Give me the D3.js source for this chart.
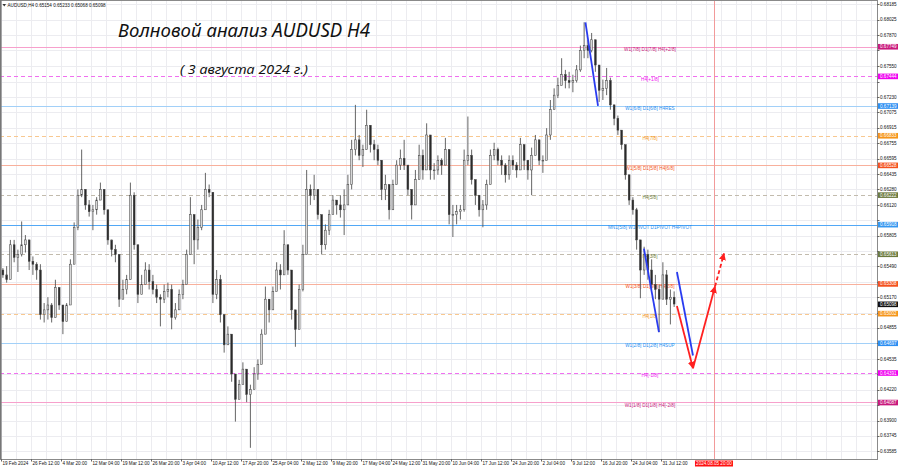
<!DOCTYPE html>
<html><head><meta charset="utf-8">
<script src="https://cdn.jsdelivr.net/npm/d3@7/dist/d3.min.js"></script>
<style>body{margin:0;background:#fff}svg{display:block}</style>
</head><body><svg id="c" width="900" height="468"></svg>
<script>
// ---------- DATA ----------
const symbolInfo = "AUDUSD,H4  0.65154 0.65233 0.65068 0.65098";
const titleMain = "Волновой анализ AUDUSD H4";
const titleDate = "( 3 августа 2024 г.)";
const barsPerCandle = 4;           // each drawn candle = 4 H4 bars (16h)
const firstOpen = 0.6545;
const highs = [
0.6547,0.6549,0.6576,0.6576,0.6566,0.6595,0.6581,0.6576,0.6559,0.6553,
0.6551,0.6511,0.6517,0.6511,0.6535,0.6525,0.6509,0.6511,0.6556,0.6594,
0.6628,0.6669,0.6628,0.6617,0.6612,0.6620,0.6635,0.6628,0.6607,0.6576,
0.6571,0.6561,0.6535,0.6540,0.6635,0.6625,0.6571,0.6540,0.6553,0.6551,
0.6540,0.6530,0.6520,0.6530,0.6532,0.6530,0.6511,0.6525,0.6535,0.6566,
0.6620,0.6602,0.6597,0.6612,0.6645,0.6633,0.6622,0.6545,0.6540,0.6499,
0.6487,0.6479,0.6438,0.6432,0.6450,0.6443,0.6427,0.6445,0.6453,0.6484,
0.6528,0.6515,0.6528,0.6553,0.6551,0.6586,0.6571,0.6545,0.6504,0.6530,
0.6571,0.6648,0.6633,0.6643,0.6628,0.6602,0.6592,0.6607,0.6622,0.6617,
0.6622,0.6628,0.6643,0.6679,0.6715,0.6684,0.6674,0.6710,0.6694,0.6679,
0.6674,0.6658,0.6643,0.6633,0.6638,0.6658,0.6669,0.6679,0.6653,0.6628,
0.6648,0.6674,0.6669,0.6696,0.6684,0.6655,0.6663,0.6660,0.6681,0.6669,
0.6612,0.6612,0.6612,0.6669,0.6703,0.6669,0.6638,0.6622,0.6617,0.6638,
0.6669,0.6676,0.6671,0.6663,0.6655,0.6663,0.6663,0.6656,0.6681,0.6674,
0.6658,0.6671,0.6684,0.6679,0.6663,0.6691,0.6720,0.6732,0.6743,0.6763,
0.6751,0.6749,0.6746,0.6756,0.6776,0.6800,0.6782,0.6789,0.6782,0.6756,
0.6741,0.6753,0.6743,0.6715,0.6704,0.6689,0.6674,0.6643,0.6620,0.6609,
0.6576,0.6569,0.6566,0.6556,0.6540,0.6530,0.6553,0.6545,0.6525,0.6523];
const lows = [
0.6537,0.6532,0.6535,0.6553,0.6543,0.6559,0.6563,0.6545,0.6540,0.6535,
0.6494,0.6491,0.6494,0.6491,0.6496,0.6504,0.6479,0.6492,0.6509,0.6551,
0.6586,0.6620,0.6607,0.6600,0.6586,0.6602,0.6617,0.6602,0.6571,0.6559,
0.6553,0.6507,0.6515,0.6520,0.6535,0.6566,0.6511,0.6520,0.6530,0.6525,
0.6520,0.6511,0.6487,0.6511,0.6517,0.6484,0.6494,0.6504,0.6515,0.6530,
0.6561,0.6551,0.6566,0.6586,0.6607,0.6620,0.6511,0.6515,0.6491,0.6460,
0.6468,0.6430,0.6389,0.6412,0.6427,0.6409,0.6362,0.6422,0.6432,0.6448,
0.6479,0.6491,0.6504,0.6523,0.6525,0.6540,0.6540,0.6494,0.6466,0.6484,
0.6523,0.6561,0.6612,0.6617,0.6597,0.6561,0.6566,0.6581,0.6602,0.6602,
0.6599,0.6581,0.6612,0.6628,0.6663,0.6658,0.6651,0.6669,0.6666,0.6658,
0.6653,0.6617,0.6617,0.6597,0.6607,0.6633,0.6648,0.6648,0.6622,0.6597,
0.6612,0.6638,0.6638,0.6648,0.6638,0.6638,0.6643,0.6643,0.6653,0.6592,
0.6579,0.6592,0.6597,0.6605,0.6653,0.6633,0.6612,0.6600,0.6589,0.6607,
0.6633,0.6658,0.6653,0.6643,0.6635,0.6638,0.6648,0.6640,0.6648,0.6648,
0.6638,0.6622,0.6663,0.6653,0.6645,0.6658,0.6679,0.6710,0.6722,0.6735,
0.6732,0.6732,0.6728,0.6738,0.6749,0.6763,0.6763,0.6769,0.6749,0.6718,
0.6720,0.6725,0.6710,0.6694,0.6684,0.6669,0.6638,0.6612,0.6602,0.6566,
0.6516,0.6540,0.6535,0.6525,0.6515,0.6481,0.6515,0.6509,0.6489,0.6507];
const closes = [
0.6540,0.6535,0.6571,0.6558,0.6561,0.6571,0.6576,0.6554,0.6551,0.6545,
0.6499,0.6504,0.6509,0.6496,0.6527,0.6509,0.6492,0.6509,0.6551,0.6589,
0.6622,0.6628,0.6612,0.6605,0.6607,0.6617,0.6628,0.6607,0.6576,0.6566,
0.6561,0.6515,0.6525,0.6535,0.6622,0.6571,0.6520,0.6530,0.6545,0.6533,
0.6525,0.6517,0.6515,0.6523,0.6525,0.6496,0.6504,0.6520,0.6530,0.6561,
0.6602,0.6576,0.6589,0.6607,0.6628,0.6625,0.6520,0.6535,0.6499,0.6468,
0.6479,0.6438,0.6412,0.6427,0.6443,0.6417,0.6422,0.6438,0.6448,0.6479,
0.6515,0.6504,0.6523,0.6545,0.6540,0.6571,0.6545,0.6504,0.6484,0.6525,
0.6561,0.6628,0.6622,0.6628,0.6602,0.6571,0.6586,0.6602,0.6617,0.6612,
0.6607,0.6612,0.6633,0.6669,0.6679,0.6663,0.6669,0.6694,0.6674,0.6669,
0.6658,0.6628,0.6633,0.6607,0.6633,0.6653,0.6660,0.6653,0.6628,0.6612,
0.6638,0.6663,0.6648,0.6684,0.6648,0.6648,0.6658,0.6653,0.6669,0.6602,
0.6602,0.6605,0.6607,0.6658,0.6663,0.6638,0.6622,0.6607,0.6612,0.6633,
0.6663,0.6669,0.6658,0.6653,0.6643,0.6658,0.6653,0.6648,0.6674,0.6658,
0.6648,0.6663,0.6679,0.6658,0.6658,0.6684,0.6710,0.6725,0.6735,0.6746,
0.6740,0.6738,0.6740,0.6751,0.6771,0.6776,0.6771,0.6782,0.6756,0.6730,
0.6732,0.6740,0.6715,0.6701,0.6689,0.6674,0.6643,0.6617,0.6607,0.6576,
0.6545,0.6561,0.6545,0.6530,0.6525,0.6515,0.6540,0.6515,0.6517,0.6510];
const lastPrice = 0.65098;

const priceTicks = [0.68185,0.68025,0.67870,0.67710,0.67550,0.67390,0.67230,0.67075,0.66915,0.66755,
0.66595,0.66435,0.66280,0.66120,0.65960,0.65805,0.65645,0.65490,0.65330,0.65170,0.65010,0.64855,
0.64695,0.64535,0.64380,0.64220,0.64065,0.63900,0.63745,0.63585];
const timeLabels = ["19 Feb 2024","26 Feb 12:00","4 Mar 20:00","12 Mar 04:00","19 Mar 12:00","26 Mar 20:00",
"3 Apr 04:00","10 Apr 12:00","17 Apr 20:00","25 Apr 04:00","2 May 12:00","9 May 20:00","17 May 04:00",
"24 May 12:00","31 May 20:00","10 Jun 04:00","17 Jun 12:00","24 Jun 20:00","2 Jul 04:00","9 Jul 12:00",
"16 Jul 20:00","24 Jul 04:00","31 Jul 12:00"];
const barsPerTimeLabel = 32;

const levelValues = [0.67749,0.67444,0.67139,0.66833,0.66528,0.66222,0.65918,0.65613,0.65308,0.65002,0.64697,0.64391,0.64087];
const levelNames = ["W1[7/8] D1[7/8] H4[+2/8]","H4[+1/8]","W1[6/8] D1[6/8] H4RES","H4[7/8]","W1[5/8] D1[5/8] H4[6/8]",
"H4[5/8]","MN1[5/8] W1PIVOT D1PIVOT H4PIVOT","H4[3/8]","W1[3/8] D1[3/8] H4[2/8]","H4[1/8]","W1[2/8] D1[2/8] H4SUP",
"H4[-1/8]","W1[1/8] D1[1/8] H4[-2/8]"];
const levelKinds = ["pink","magenta","lblue","orange","coral","olive","blue","olive","coral","orange","lblue","magenta","pink"];

// wave annotations: [H4 bar index, price]
const blueWaves = [
  [[622.9,0.6800],[636.3,0.6714]],
  [[685.3,0.6567],[701.3,0.6481]],
  [[720.5,0.6543],[737.6,0.6457]]];
const redPath = [[720.5,0.6508],[737.6,0.6444],[761.1,0.6528]];
const redDashed = [[761.1,0.6528],[770.7,0.6562]];
const futureBar = 760;
const futureLabel = "2024.08.05 20:00";
const levelLabelBar = 691.7;

// ---------- STYLES ----------
const kindStyle = {
  pink:   {line:"#f7a0cc", dash:null,  text:"#c8197c", box:"#c8197c"},
  magenta:{line:"#f070f0", dash:"4,3", text:"#f010f0", box:"#f000f0"},
  lblue:  {line:"#a2d0f8", dash:null,  text:"#2a8ff0", box:"#2b8ef2"},
  orange: {line:"#f8c890", dash:"4,3", text:"#f39a1e", box:"#f5951a"},
  coral:  {line:"#f8b09c", dash:null,  text:"#f2551c", box:"#f4511e"},
  olive:  {line:"#c2bbad", dash:"4,3", text:"#6f8038", box:"#6b7a3e"},
  blue:   {line:"#52a8f6", dash:null,  text:"#2a8ff0", box:"#3597f0"}
};
const FONT = "'Liberation Sans', Arial, sans-serif";

// ---------- CHART ----------
const svg = d3.select("#c");
const W = 877, H = 459;
const x = d3.scaleLinear().domain([-1.6, 933.9]).range([0, W]);
const y = d3.scaleLinear().domain([0.63505, 0.68219]).range([H, 1]);

const defs = svg.append("defs");
defs.append("clipPath").attr("id","plot").append("rect").attr("x",0).attr("y",1).attr("width",W).attr("height",H-1);
defs.append("marker").attr("id","arrRed").attr("viewBox","0 0 10 10").attr("refX",9).attr("refY",5)
   .attr("markerWidth",4).attr("markerHeight",4).attr("orient","auto")
   .append("path").attr("d","M0,0 L10,5 L0,10 z").attr("fill","#ff2020");

// grid
const g = svg.append("g").attr("clip-path","url(#plot)");
const vGrid = d3.range(0, 934, barsPerTimeLabel/2);
g.selectAll("line.vg").data(vGrid).join("line")
  .attr("x1",d=>Math.round(x(d))+0.5).attr("x2",d=>Math.round(x(d))+0.5).attr("y1",1).attr("y2",H)
  .attr("stroke","#ececf0").attr("stroke-width",1);
g.selectAll("line.hg").data(priceTicks).join("line")
  .attr("x1",0).attr("x2",W).attr("y1",d=>Math.round(y(d))+0.5).attr("y2",d=>Math.round(y(d))+0.5)
  .attr("stroke","#ececf0").attr("stroke-width",1);

// level lines & labels
const levels = levelValues.map((v,i)=>({v, name:levelNames[i], s:kindStyle[levelKinds[i]]}));
g.selectAll("line.lv").data(levels).join("line")
  .attr("x1",0).attr("x2",W).attr("y1",d=>Math.round(y(d.v))+0.5).attr("y2",d=>Math.round(y(d.v))+0.5)
  .attr("stroke",d=>d.s.line).attr("stroke-width",1).attr("stroke-dasharray",d=>d.s.dash);
g.selectAll("text.lv").data(levels).join("text")
  .attr("x",x(levelLabelBar)).attr("y",d=>y(d.v)+4.3).attr("text-anchor","middle")
  .attr("font-family",FONT).attr("font-size",4.7).attr("fill",d=>d.s.text).text(d=>d.name);

// red future vertical line
g.append("line").attr("x1",Math.round(x(futureBar))+0.5).attr("x2",Math.round(x(futureBar))+0.5)
  .attr("y1",1).attr("y2",H).attr("stroke","#f29a9a").attr("stroke-width",1);

// candles
const candles = closes.map((c,i)=>{
  const o = i===0 ? firstOpen : closes[i-1];
  return {i, o, c, h:Math.max(highs[i],o,c), l:Math.min(lows[i],o,c)};
});
const cx = d => x(d.i*barsPerCandle + 1.5);
const cg = g.append("g");
cg.selectAll("line.w").data(candles).join("line")
  .attr("x1",cx).attr("x2",cx).attr("y1",d=>y(d.h)).attr("y2",d=>y(d.l))
  .attr("stroke","#555").attr("stroke-width",0.9);
cg.selectAll("rect.b").data(candles).join("rect")
  .attr("x",d=>cx(d)-0.9).attr("width",1.8)
  .attr("y",d=>y(Math.max(d.o,d.c))).attr("height",d=>Math.max(0.8, Math.abs(y(d.o)-y(d.c))))
  .attr("fill",d=>d.c>=d.o ? "#d8d8d8" : "#2a2a2a").attr("stroke","#444").attr("stroke-width",0.5);

// waves
const line = d3.line().x(d=>x(d[0])).y(d=>y(d[1]));
g.selectAll("path.bw").data(blueWaves).join("path").attr("d",line)
  .attr("stroke","#2a3cf0").attr("stroke-width",1.8).attr("fill","none");
for (let k=0;k<redPath.length-1;k++){
  g.append("path").attr("d",line([redPath[k],redPath[k+1]])).attr("stroke","#ff2020")
   .attr("stroke-width",1.8).attr("fill","none").attr("marker-end","url(#arrRed)");
}
g.append("path").attr("d",line(redDashed)).attr("stroke","#ff2020").attr("stroke-width",1.8)
  .attr("stroke-dasharray","4,2.5").attr("fill","none").attr("marker-end","url(#arrRed)");

// frame
svg.append("rect").attr("x",0.5).attr("y",0.5).attr("width",W).attr("height",H)
  .attr("fill","none").attr("stroke","#8a8a8a").attr("stroke-width",1);
svg.append("line").attr("x1",0.8).attr("x2",0.8).attr("y1",0).attr("y2",H).attr("stroke","#777").attr("stroke-width",1.6);

// price axis (ticks hidden behind level / price boxes are skipped)
const boxVals = levelValues.concat([lastPrice]);
const visibleTicks = priceTicks.filter(t => boxVals.every(b => Math.abs(y(t)-y(b)) > 5.4));
const ax = svg.append("g");
ax.selectAll("line").data(priceTicks).join("line")
  .attr("x1",W).attr("x2",W+2.5).attr("y1",d=>Math.round(y(d))+0.5).attr("y2",d=>Math.round(y(d))+0.5)
  .attr("stroke","#666");
ax.selectAll("text").data(visibleTicks).join("text")
  .attr("x",W+3).attr("y",d=>y(d)+1.6).attr("font-family",FONT).attr("font-size",4.6)
  .attr("fill","#111").text(d=>d.toFixed(5));
// level boxes
const lb = svg.append("g").selectAll("g").data(levels).join("g");
lb.append("rect").attr("x",W+1).attr("y",d=>y(d.v)-2.7).attr("width",20).attr("height",5.6).attr("fill",d=>d.s.box);
lb.append("text").attr("x",W+3).attr("y",d=>y(d.v)+1.6).attr("font-family",FONT).attr("font-size",4.6)
  .attr("fill","#fff").text(d=>d.v.toFixed(5));
// last price box
svg.append("rect").attr("x",W+1).attr("y",y(lastPrice)-2.7).attr("width",20).attr("height",5.6).attr("fill","#111");
svg.append("text").attr("x",W+3).attr("y",y(lastPrice)+1.6).attr("font-family",FONT).attr("font-size",4.6)
  .attr("fill","#fff").text(lastPrice.toFixed(5));

// time axis
const tx = svg.append("g");
tx.selectAll("line").data(timeLabels).join("line")
  .attr("x1",(d,i)=>Math.round(x(i*barsPerTimeLabel))+0.5).attr("x2",(d,i)=>Math.round(x(i*barsPerTimeLabel))+0.5)
  .attr("y1",H).attr("y2",H+2.5).attr("stroke","#666");
tx.selectAll("text").data(timeLabels).join("text")
  .attr("x",(d,i)=>x(i*barsPerTimeLabel)+1).attr("y",H+6.3).attr("font-family",FONT).attr("font-size",4.6)
  .attr("fill","#111").text(d=>d);
svg.append("rect").attr("x",x(futureBar)-19).attr("y",H+1.5).attr("width",38).attr("height",6).attr("fill","#ff1010");
svg.append("text").attr("x",x(futureBar)).attr("y",H+6.3).attr("text-anchor","middle").attr("font-family",FONT)
  .attr("font-size",4.6).attr("fill","#fff").text(futureLabel);

// header and titles
svg.append("path").attr("d","M2.5,4 L6,4 L4.25,6.5 z").attr("fill","#333");
svg.append("text").attr("x",7.5).attr("y",6.8).attr("font-family",FONT).attr("font-size",4.6).attr("fill","#111").text(symbolInfo);
svg.append("text").attr("x",118).attr("y",37).attr("font-family","'Noto Sans', sans-serif").attr("font-style","italic")
  .attr("font-size",19).attr("fill","#111").attr("textLength",252).attr("lengthAdjust","spacingAndGlyphs").text(titleMain);
svg.append("text").attr("x",180).attr("y",74).attr("font-family","'Noto Sans', sans-serif").attr("font-style","italic")
  .attr("font-size",13).attr("fill","#111").attr("textLength",128).attr("lengthAdjust","spacingAndGlyphs").text(titleDate);
</script></body></html>
